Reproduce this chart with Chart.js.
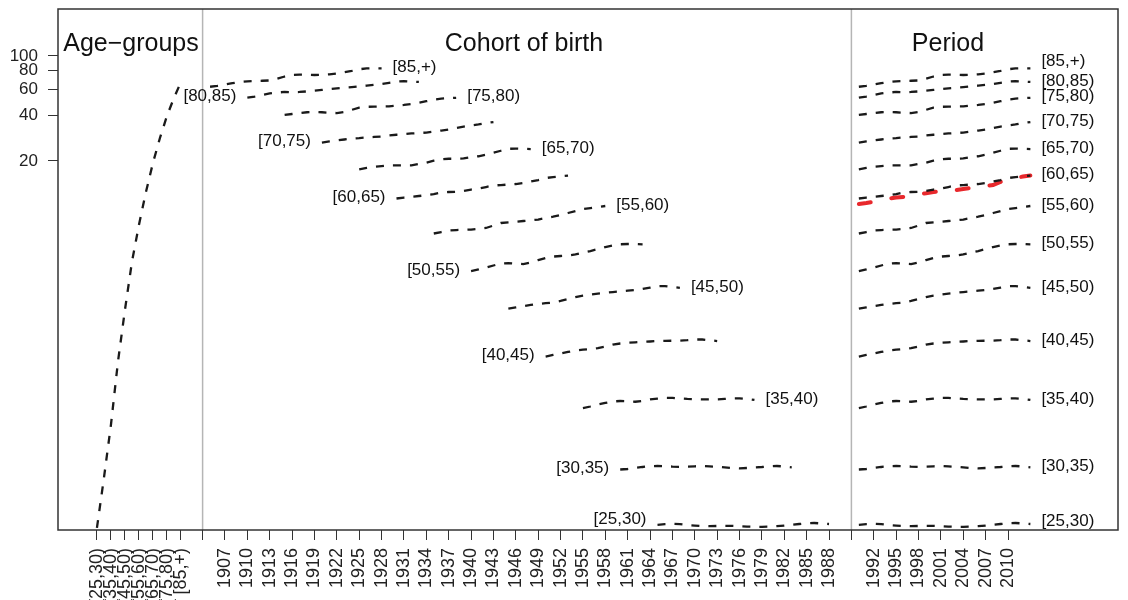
<!DOCTYPE html>
<html><head><meta charset="utf-8">
<script src="https://cdn.jsdelivr.net/npm/chart.js@4/dist/chart.umd.min.js"></script>
<style>html,body{margin:0;padding:0;background:#fff;}#wrap{width:1128px;height:600px;}</style>
</head><body><div id="wrap"><canvas id="c" width="1128" height="600"></canvas></div>
<script>
// ---------------- DATA ----------------
const ageGroups = ['[25,30)','[30,35)','[35,40)','[40,45)','[45,50)','[50,55)','[55,60)','[60,65)','[65,70)','[70,75)','[75,80)','[80,85)','[85,+)'];
const ageLower = [25,30,35,40,45,50,55,60,65,70,75,80,85];
const periods = [1990,1991,1992,1993,1994,1995,1996,1997,1998,1999,2000,2001,2002,2003,2004,2005,2006,2007,2008,2009,2010,2011,2012,2013];

const r25 = [0.0757,0.0764,0.0768,0.0764,0.0754,0.0748,0.0743,0.0741,0.0743,0.0745,0.0744,0.0741,0.0736,0.0734,0.0734,0.0736,0.0741,0.0748,0.0757,0.0766,0.0776,0.0778,0.0772,0.0766];
const r30 = [0.1767,0.1780,0.1808,0.1836,0.1858,0.1864,0.1858,0.1847,0.1841,0.1847,0.1855,0.1864,0.1855,0.1841,0.1824,0.1808,0.1799,0.1808,0.1822,0.1836,0.1855,0.1864,0.1850,0.1827];
const r35 = [0.453,0.464,0.478,0.490,0.501,0.505,0.503,0.499,0.506,0.517,0.523,0.530,0.530,0.525,0.521,0.519,0.518,0.518,0.518,0.521,0.525,0.526,0.521,0.513];
const r40 = [0.998,1.022,1.045,1.070,1.095,1.108,1.120,1.137,1.164,1.200,1.219,1.232,1.241,1.251,1.257,1.266,1.270,1.272,1.274,1.282,1.296,1.296,1.282,1.266];
const r45 = [2.08,2.12,2.16,2.20,2.23,2.26,2.28,2.34,2.41,2.48,2.54,2.58,2.62,2.65,2.68,2.71,2.74,2.77,2.81,2.87,2.93,2.94,2.90,2.86];
const r50 = [3.70,3.79,3.90,4.03,4.15,4.18,4.15,4.12,4.22,4.38,4.52,4.62,4.66,4.69,4.77,4.91,5.03,5.18,5.35,5.47,5.58,5.60,5.60,5.57];
const r55 = [6.58,6.73,6.89,6.94,6.96,6.99,7.07,7.16,7.43,7.73,7.81,7.88,7.97,8.05,8.15,8.34,8.51,8.73,9.01,9.29,9.57,9.72,9.87,10.03];
const r60 = [11.25,11.42,11.56,11.69,11.83,12.05,12.33,12.43,12.48,12.62,12.91,13.11,13.42,13.73,13.83,13.94,14.05,14.27,14.60,14.94,15.40,15.64,15.81,15.96];
const r65 = [17.6,18.0,18.3,18.5,18.7,18.7,18.7,18.7,19.1,19.5,20.1,20.5,20.7,20.7,20.8,21.2,21.5,22.0,22.7,23.4,24.1,24.2,24.1,24.0];
const r70 = [26.5,27.0,27.4,27.8,28.2,28.4,28.7,28.9,29.1,29.6,29.9,30.2,30.5,30.7,30.9,31.4,31.9,32.4,33.2,33.9,34.5,35.0,35.8,36.3];
const r75 = [40.5,41.1,41.7,42.2,42.4,42.2,41.9,41.7,42.4,43.8,45.3,45.9,46.0,46.1,46.2,46.7,47.2,47.9,48.8,50.0,51.2,52.0,52.4,52.7];
const r80 = [52.8,53.7,55.0,56.3,57.1,57.6,57.4,57.6,58.1,58.7,59.4,60.1,60.8,61.4,62.0,62.7,63.5,64.3,65.1,66.3,67.5,68.0,67.6,67.2];
const r85 = [62.4,63.3,64.6,65.9,67.1,67.8,68.2,68.4,68.7,70.5,73.0,74.7,75.1,75.0,74.7,75.0,75.5,76.5,77.9,79.5,81.6,82.6,82.8,82.8];
const rateSeries = [r25,r30,r35,r40,r45,r50,r55,r60,r65,r70,r75,r80,r85];

// highlighted (red) period curve for [60,65)
const highlight6065 = [10.34,10.50,10.71,10.99,11.25,11.42,11.54,11.78,12.01,12.20,12.43,12.62,12.72,12.81,13.01,13.21,13.42,13.62,13.83,14.49,15.05,15.40,15.76,16.00];

// age-groups curve
const ageCurve = [0.0721,0.1551,0.3494,0.9177,2.037,4.252,7.497,12.43,19.39,28.44,39.85,52.52,67.12];

// tick labels
const ageTickLabels = ['[25,30)','[35,40)','[45,50)','[55,60)','[65,70)','[75,80)','[85,+)'];
const cohortTickYears = [1907,1910,1913,1916,1919,1922,1925,1928,1931,1934,1937,1940,1943,1946,1949,1952,1955,1958,1961,1964,1967,1970,1973,1976,1979,1982,1985,1988];
const periodTickYears = [1992,1995,1998,2001,2004,2007,2010];
const yTickValues = [20,40,60,80,100];

// ---------------- LAYOUT (frame coordinates) ----------------
const AGE_X0 = 1889.83, AGE_STEP = 0.9387;   // age groups placed on compressed axis
const PERIOD_SHIFT = 2;                        // period axis offset after cohort section
const SEPARATORS = [1904, 1991];
const X_MIN = 1884.61, X_MAX = 2026.75;
const Y_MIN = 0.06988, Y_MAX = 205.5;
const FONT = "'Liberation Sans', Arial, Helvetica, sans-serif";
const cohortSide = ['L','L','R','L','R','L','R','L','R','L','R','L','R'];
const cohortDy = [-4,0,0,0,0,0,0,0,0,0,0,0,0];
const periodDy = [-2,0,0,0,0,0,0,0,0,0,0,0,-5.5];

const xTicks = [];
ageTickLabels.forEach((l, j) => xTicks.push({v: AGE_X0 + AGE_STEP * (2 * j), label: l}));
xTicks.push({v: SEPARATORS[0], label: ''});
cohortTickYears.forEach(y => xTicks.push({v: y, label: String(y)}));
xTicks.push({v: SEPARATORS[1], label: ''});
periodTickYears.forEach(y => xTicks.push({v: y + PERIOD_SHIFT, label: String(y)}));

const BLACK = '#1a1a1a';
const datasets = [];
const cohortIdx = [], periodIdx = [];
rateSeries.forEach((vals, i) => {
  cohortIdx.push(datasets.length);
  datasets.push({data: vals.map((v, k) => ({x: periods[k] - ageLower[i], y: v})),
    borderColor: BLACK, borderWidth: 2.3, borderDash: [8, 9], pointRadius: 0, fill: false, tension: 0});
  periodIdx.push(datasets.length);
  datasets.push({data: vals.map((v, k) => ({x: periods[k] + PERIOD_SHIFT, y: v})),
    borderColor: BLACK, borderWidth: 2.3, borderDash: [8, 9], pointRadius: 0, fill: false, tension: 0});
});
datasets.push({data: highlight6065.map((v, k) => ({x: periods[k] + PERIOD_SHIFT, y: v})),
  borderColor: '#e8282c', borderWidth: 4, borderDash: [12, 21], borderCapStyle: 'round', pointRadius: 0, fill: false, tension: 0});
datasets.push({data: ageCurve.map((v, i) => ({x: AGE_X0 + AGE_STEP * i, y: v})),
  borderColor: BLACK, borderWidth: 2.3, borderDash: [8, 9], pointRadius: 0, fill: false, tension: 0});

const framePlugin = {
  id: 'frame',
  beforeDatasetsDraw(chart) {
    const {ctx, chartArea: a, scales: {x}} = chart;
    ctx.save();
    ctx.strokeStyle = '#b5b5b5'; ctx.lineWidth = 1.5;
    SEPARATORS.forEach(s => {
      const px = x.getPixelForValue(s);
      ctx.beginPath(); ctx.moveTo(px, a.top); ctx.lineTo(px, a.bottom); ctx.stroke();
    });
    ctx.restore();
  },
  afterDatasetsDraw(chart) {
    const {ctx, chartArea: a, scales: {x}} = chart;
    ctx.save();
    ctx.strokeStyle = '#333'; ctx.lineWidth = 1.5;
    ctx.strokeRect(a.left, a.top, a.right - a.left, a.bottom - a.top);
    // titles
    ctx.fillStyle = '#111'; ctx.font = '25px ' + FONT; ctx.textAlign = 'center'; ctx.textBaseline = 'alphabetic';
    ctx.fillText('Age\u2212groups', x.getPixelForValue(1894.4), a.top + 42);
    ctx.fillText('Cohort of birth', x.getPixelForValue(1947.1), a.top + 42);
    ctx.fillText('Period', x.getPixelForValue(2003.95), a.top + 42);
    // series labels
    ctx.font = '17px ' + FONT; ctx.textBaseline = 'middle';
    const gap = 11;
    ageGroups.forEach((g, i) => {
      const cm = chart.getDatasetMeta(cohortIdx[i]).data;
      if (cohortSide[i] === 'L') {
        const p = cm[0]; ctx.textAlign = 'right';
        ctx.fillText(g, p.x - gap, p.y - 1 + cohortDy[i]);
      } else {
        const p = cm[cm.length - 1]; ctx.textAlign = 'left';
        ctx.fillText(g, p.x + gap, p.y - 1 + cohortDy[i]);
      }
      const pm = chart.getDatasetMeta(periodIdx[i]).data;
      const q = pm[pm.length - 1]; ctx.textAlign = 'left';
      ctx.fillText(g, q.x + gap, q.y - 1 + periodDy[i]);
    });
    ctx.restore();
  }
};

new Chart(document.getElementById('c'), {
  type: 'line',
  data: {datasets},
  plugins: [framePlugin],
  options: {
    responsive: false, animation: false, devicePixelRatio: 1,
    layout: {padding: {top: 9, right: 10, left: 0, bottom: 0}},
    plugins: {legend: {display: false}, tooltip: {enabled: false}},
    scales: {
      x: {type: 'linear', min: X_MIN, max: X_MAX,
        afterBuildTicks: s => { s.ticks = xTicks.map(t => ({value: t.v})); },
        afterFit: s => { s.height = 70; s.paddingLeft = 0; s.paddingRight = 0; },
        ticks: {autoSkip: false, maxRotation: 90, minRotation: 90, padding: 8, color: '#222',
          font: {size: 18, family: FONT}, callback: (v, i) => xTicks[i] ? xTicks[i].label : ''},
        grid: {drawOnChartArea: false, drawTicks: true, tickLength: 10, color: '#333', lineWidth: 1},
        border: {display: false}},
      y: {type: 'logarithmic', min: Y_MIN, max: Y_MAX,
        afterBuildTicks: s => { s.ticks = yTickValues.map(v => ({value: v})); },
        afterFit: s => { s.width = 58; s.paddingTop = 0; s.paddingBottom = 0; },
        ticks: {padding: 10, color: '#222', font: {size: 17, family: FONT}, callback: v => String(v)},
        grid: {drawOnChartArea: false, drawTicks: true, tickLength: 10, color: '#333', lineWidth: 1},
        border: {display: false}}
    }
  }
});
</script></body></html>
